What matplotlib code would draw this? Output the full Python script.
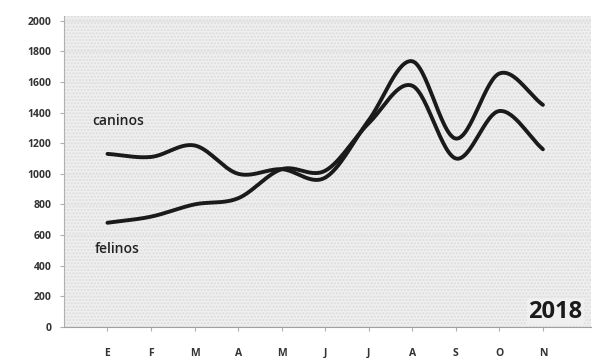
import numpy as np
import matplotlib.pyplot as plt

meses = ["E", "F", "M", "A", "M", "J", "J", "A", "S", "O", "N"]
caninos = [1130, 1110, 1185, 1000, 1030, 975, 1350, 1735, 1230, 1655, 1450]
felinos = [680, 720, 800, 840, 1030, 1020, 1330, 1575, 1100, 1410, 1160]
yticks = [0, 200, 400, 600, 800, 1000, 1200, 1400, 1600, 1800, 2000]


def suave(y, n=30):
    # curva tipo Catmull-Rom, como la linea suavizada de Excel
    y = np.asarray(y, dtype=float)
    x = np.arange(len(y), dtype=float)
    P = np.concatenate([[2 * y[0] - y[1]], y, [2 * y[-1] - y[-2]]])
    xs, ys = [], []
    for i in range(len(y) - 1):
        p0, p1, p2, p3 = P[i], P[i + 1], P[i + 2], P[i + 3]
        t = np.linspace(0, 1, n, endpoint=False)
        yy = 0.5 * (2 * p1 + (-p0 + p2) * t + (2 * p0 - 5 * p1 + 4 * p2 - p3) * t**2
                    + (-p0 + 3 * p1 - 3 * p2 + p3) * t**3)
        xs.append(x[i] + t)
        ys.append(yy)
    xs.append([x[-1]])
    ys.append([y[-1]])
    return np.concatenate(xs), np.concatenate(ys)


plt.rcParams['font.family'] = ['Open Sans', 'DejaVu Sans']

fig = plt.figure(figsize=(5.92, 3.58), dpi=100)
ax = fig.add_axes([0.108, 0.087, 0.89, 0.868])
ax.set_facecolor('#efefef')
ax.patch.set_hatch('.....')
ax.patch.set_edgecolor('#dcdcdc')
ax.patch.set_linewidth(0)

for serie in (caninos, felinos):
    xs, ys = suave(serie)
    ax.plot(xs, ys, color='#1a1a1a', lw=2.8, solid_capstyle='round', zorder=3)

ax.set_xlim(-1, 11.1)
ax.set_ylim(0, 2030)
ax.set_yticks(yticks)
ax.set_yticklabels([str(v) for v in yticks])
ax.set_xticks(range(len(meses)))
ax.set_xticklabels(meses)
ax.grid(axis='y', color='#e4e4e4', lw=0.8)
ax.set_axisbelow(True)

for s in ('top', 'right'):
    ax.spines[s].set_visible(False)
ax.spines['left'].set_color('#b0b0b0')
ax.spines['bottom'].set_color('#a0a0a0')
ax.tick_params(axis='y', colors='#b0b0b0', labelcolor='#333333', labelsize=7.5, length=3, pad=6)
ax.tick_params(axis='x', colors='#b0b0b0', labelcolor='#333333', labelsize=7.5, length=3, pad=12)
for lab in ax.get_xticklabels() + ax.get_yticklabels():
    lab.set_fontweight('bold')

ax.text(-0.35, 1320, "caninos", fontsize=10, fontweight='semibold', color='#222222')
ax.text(-0.3, 480, "felinos", fontsize=10, fontweight='semibold', color='#222222')
ax.text(10.9, 60, "2018", fontsize=17, fontweight='bold', color='#1a1a1a', ha='right',
        bbox=dict(facecolor='#efefef', edgecolor='none', pad=1))

fig.savefig("out.png", dpi=100)
